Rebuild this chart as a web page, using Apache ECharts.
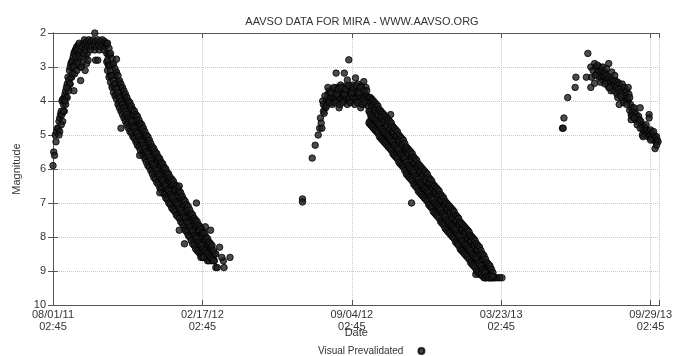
<!DOCTYPE html>
<html>
<head>
<meta charset="utf-8">
<script src="https://cdn.jsdelivr.net/npm/echarts@6/dist/echarts.min.js"></script>
<style>
  html, body { margin: 0; padding: 0; background: #fff; }
  #chart { width: 675px; height: 356px; }
</style>
</head>
<body>
<div id="chart"></div>
<script>
// x = days since 08/01/11 02:45, y = visual magnitude
const tickLabels = ["08/01/11\n02:45", "02/17/12\n02:45", "09/04/12\n02:45", "03/23/13\n02:45", "09/29/13\n02:45"];

const season1 = [
  [0,5.9],[1,5.5],[2,5.6],[3,5.0],[4,5.2],[5,4.9],[6,4.8],[7,4.8],[8,4.6],[9,4.5],[10,4.4],[11,4.3],[12,4.0],[12,4.4],
  [13,3.95],[14,4.1],[15,3.9],[16,3.8],[17,3.7],[18,3.9],[19,3.5],[20,3.6],[20,3.3],[21,3.4],[22,3.1],[23,3.0],[23,3.5],
  [24,2.9],[25,2.85],[25,3.3],[26,2.8],[27,3.0],[27,2.7],[28,2.6],[28,3.7],[29,2.55],[30,2.5],[30,2.9],[31,2.45],[32,2.4],
  [33,2.8],[34,2.35],[35,2.3],[36,3.0],[37,3.4],[38,2.6],[39,2.9],[40,2.5],[41,2.3],[42,2.4],[43,3.1],[44,2.7],[45,2.9],
  [46,2.6],[47,2.8],
  [15,4.3],[17,4.1],[19,3.9],[21,3.7],[22,3.5],[24,3.3],[26,3.2],[28,3.0],[29,3.2],[31,2.7],[32,3.1],[33,2.5],[34,2.9],
  [35,2.6],[36,2.7],[37,2.5],[38,3.0],[39,2.4],[40,2.7],[41,2.6],[18,3.6],[16,4.0],[14,4.3],[13,4.6],[11,4.7],[9,4.9],[8,5.0],
  [42,2.2],[43,2.35],[44,2.5],[45,2.25],[46,2.4],[48,2.2],[49,2.35],[50,2.5],[51,2.25],[52,2.4],[54,2.2],[55,2.35],
  [56,2.5],[56,2.0],[57,2.25],[57,2.8],[58,2.4],[60,2.2],[60,2.8],[61,2.35],[62,2.5],[63,2.25],[64,2.4],[66,2.2],
  [67,2.35],[68,2.5],[69,2.25],[70,2.4],[71,2.3],
  [72,2.35],[72,2.6],[72,2.85],[74,2.65],[74,2.95],[76,2.65],[76,2.95],[76,3.25],[78,2.95],[78,3.25],
  [80,2.95],[80,3.25],[80,3.55],[82,3.25],[82,3.55],[84,3.2],[84,3.5],[84,3.8],[86,3.45],[86,3.75],
  [88,3.45],[88,3.75],[88,4.05],[90,3.7],[90,4.0],[92,3.65],[92,3.95],[92,4.25],[94,3.9],[94,4.2],
  [96,3.85],[96,4.15],[96,4.45],[98,4.1],[98,4.4],[100,4.05],[100,4.35],[100,4.65],[102,4.3],[102,4.6],
  [104,4.2],[104,4.5],[104,4.8],[106,4.45],[106,4.75],[108,4.4],[108,4.7],[108,5.0],[110,4.6],[110,4.9],
  [112,4.55],[112,4.85],[112,5.15],[114,4.75],[114,5.05],[116,4.7],[116,5.0],[116,5.3],[118,4.95],[118,5.25],
  [120,4.85],[120,5.15],[120,5.45],[122,5.1],[122,5.4],[124,5.05],[124,5.35],[124,5.65],[126,5.3],[126,5.6],
  [128,5.2],[128,5.5],[128,5.8],[130,5.45],[130,5.75],[132,5.4],[132,5.7],[132,6.0],[134,5.65],[134,5.95],
  [136,5.55],[136,5.85],[136,6.15],[138,5.8],[138,6.1],[140,5.7],[140,6.0],[140,6.3],[142,5.95],[142,6.25],
  [144,5.85],[144,6.15],[144,6.45],[146,6.1],[146,6.4],[148,6.0],[148,6.3],[148,6.6],[150,6.25],[150,6.55],
  [152,6.15],[152,6.45],[152,6.75],[154,6.4],[154,6.7],[156,6.3],[156,6.6],[156,6.9],[158,6.55],[158,6.85],
  [160,6.45],[160,6.75],[160,7.05],[162,6.65],[162,6.95],[164,6.6],[164,6.9],[164,7.2],[166,6.8],[166,7.1],
  [168,6.7],[168,7.0],[168,7.3],[170,6.95],[170,7.25],[172,6.85],[172,7.15],[172,7.45],[174,7.1],[174,7.4],
  [176,7.05],[176,7.35],[176,7.65],[178,7.25],[178,7.55],[180,7.2],[180,7.5],[180,7.8],[182,7.4],[182,7.7],
  [184,7.35],[184,7.65],[184,7.95],[186,7.6],[186,7.9],[188,7.5],[188,7.8],[188,8.1],[190,7.75],[190,8.05],
  [192,7.65],[192,7.95],[192,8.25],[194,7.85],[194,8.15],[196,7.8],[196,8.1],[196,8.4],[198,8.0],[198,8.3],
  [200,7.9],[200,8.2],[200,8.5],[202,8.15],[202,8.45],[204,8.05],[204,8.35],[204,8.6],[206,8.25],[206,8.55],
  [208,8.2],[208,8.45],[208,8.6],[210,8.35],[210,8.6],[212,8.3],[212,8.55],[212,8.7],[214,8.45],[214,8.6],
  [216,8.5],[216,8.7],
  [73,2.3],[73,2.8],[73,3.1],[75,2.45],[75,2.95],[75,3.3],[77,2.6],[77,3.1],[77,3.45],[79,2.75],[79,3.25],[79,3.6],
  [81,2.9],[81,3.4],[81,3.75],[83,3.05],[83,3.5],[83,3.85],[85,3.15],[85,3.65],[85,3.95],[87,3.25],[87,3.75],[87,4.1],
  [89,3.4],[89,3.9],[89,4.2],[91,3.5],[91,4.0],[91,4.3],[93,3.6],[93,4.1],[93,4.4],[95,3.7],[95,4.2],[95,4.5],
  [97,3.8],[97,4.3],[97,4.6],[99,3.9],[99,4.4],[99,4.7],[101,4.0],[101,4.5],[101,4.8],[103,4.05],[103,4.55],[103,4.9],
  [105,4.15],[105,4.6],[105,4.95],[107,4.25],[107,4.75],[107,5.05],[109,4.3],[109,4.8],[109,5.1],[111,4.4],[111,4.9],[111,5.2],
  [113,4.45],[113,4.95],[113,5.3],[115,4.55],[115,5.05],[115,5.35],[117,4.65],[117,5.15],[117,5.45],[119,4.7],[119,5.2],[119,5.55],
  [121,4.8],[121,5.3],[121,5.6],[123,4.9],[123,5.4],[123,5.7],[125,5.0],[125,5.5],[125,5.8],[127,5.05],[127,5.55],[127,5.9],
  [129,5.15],[129,5.65],[129,5.95],[131,5.25],[131,5.75],[131,6.05],[133,5.35],[133,5.85],[133,6.15],[135,5.4],[135,5.9],[135,6.25],
  [137,5.5],[137,6.0],[137,6.3],[139,5.55],[139,6.05],[139,6.4],[141,5.65],[141,6.15],[141,6.45],[143,5.7],[143,6.2],[143,6.55],
  [145,5.8],[145,6.3],[145,6.6],[147,5.85],[147,6.35],[147,6.7],[149,5.95],[149,6.45],[149,6.75],[151,6.0],[151,6.5],[151,6.85],
  [153,6.1],[153,6.6],[153,6.9],[155,6.15],[155,6.65],[155,7.0],[157,6.25],[157,6.75],[157,7.05],[159,6.3],[159,6.8],[159,7.15],
  [161,6.35],[161,6.85],[161,7.2],[163,6.45],[163,6.95],[163,7.25],[165,6.5],[165,7.0],[165,7.35],[167,6.55],[167,7.05],[167,7.4],
  [169,6.65],[169,7.15],[169,7.45],[171,6.7],[171,7.2],[171,7.55],[173,6.8],[173,7.3],[173,7.6],[175,6.9],[175,7.4],[175,7.7],
  [177,6.95],[177,7.45],[177,7.8],[179,7.05],[179,7.55],[179,7.85],[181,7.1],[181,7.6],[181,7.95],[183,7.2],[183,7.7],[183,8.0],
  [185,7.3],[185,7.8],[185,8.1],[187,7.35],[187,7.85],[187,8.2],[189,7.45],[189,7.95],[189,8.25],[191,7.5],[191,8.0],[191,8.35],
  [193,7.55],[193,8.05],[193,8.4],[195,7.65],[195,8.15],[195,8.45],[197,7.7],[197,8.2],[197,8.5],[199,7.75],[199,8.25],[199,8.55],
  [201,7.85],[201,8.35],[201,8.6],[203,7.9],[203,8.4],[203,8.6],[205,8.0],[205,8.45],[205,8.6],[207,8.05],[207,8.5],[207,8.7],
  [209,8.15],[209,8.55],[209,8.7],[211,8.2],[211,8.6],[213,8.25],[213,8.65],[215,8.4],[215,8.7],
  [85,2.77],[91,4.8],[116,5.6],[143,6.7],[169,6.5],[169,7.8],[176,8.2],[192,7.0],[218,8.9],[220,8.9],[229,8.9],
  [228,8.7],[237,8.6],[223,8.3],[198,8.6],[201,8.6],[204,7.7],[211,7.8],[218,8.5],[226,8.6]
];

const season2 = [
  [334,6.88],[334,6.97],[347,5.68],[351,5.3],[355,5.0],[357,4.8],[358,4.5],[359,4.65],[360,4.8],[361,4.0],[362,4.3],
  [363,4.36],[364,4.15],[365,4.2],[366,3.95],[367,4.1],
  [368,3.8],[369,4.0],[370,3.7],[371,3.9],[372,4.05],[373,3.75],[374,3.95],[375,3.65],[376,3.85],[377,4.0],[378,3.7],
  [379,3.18],[379,3.9],[380,3.6],[381,3.8],[382,4.0],[383,4.2],[383,3.7],[384,3.9],[385,3.53],[386,3.75],[387,3.95],
  [388,3.6],[389,3.85],[390,3.18],[390,4.0],[391,3.7],[392,3.9],[393,3.55],[394,3.38],[394,3.8],[395,4.0],[396,2.79],
  [396,3.7],[397,3.9],[398,3.6],[399,3.8],[400,4.0],[401,3.53],[401,3.7],[402,3.9],[403,3.6],[404,3.8],[405,3.32],
  [405,4.0],[406,3.7],[407,3.9],[408,3.5],[409,3.8],[410,4.0],[411,3.65],[412,4.2],[412,3.85],[413,3.55],[414,3.75],
  [415,3.95],[416,3.43],[416,4.1],[417,3.7],[418,3.9],[419,3.6],[420,3.85],[421,4.05],
  [362,4.1],[364,3.85],[366,4.15],[368,3.6],[370,4.05],[372,3.75],[374,4.1],[376,3.6],[378,4.05],[380,3.8],[382,3.65],
  [384,4.1],[386,3.6],[388,4.05],[390,3.8],[392,3.65],[394,4.1],[396,3.55],[398,4.05],[400,3.75],[402,3.6],[404,4.1],
  [406,3.55],[408,4.05],[410,3.75],[412,3.6],[414,4.1],[416,3.7],[418,4.05],[420,3.7],[422,4.15],[422,3.9],
  [424,4.0],[424,4.3],[424,4.6],[426,4.2],[426,4.5],[428,4.1],[428,4.4],[428,4.7],[430,4.3],[430,4.6],
  [432,4.2],[432,4.5],[432,4.8],[434,4.4],[434,4.7],[436,4.3],[436,4.6],[436,4.9],[438,4.55],[438,4.85],
  [440,4.45],[440,4.75],[440,5.05],[442,4.65],[442,4.95],[444,4.55],[444,4.85],[444,5.15],[446,4.75],[446,5.05],
  [448,4.65],[448,4.95],[448,5.25],[450,4.85],[450,5.15],[452,4.75],[452,5.05],[452,5.35],[454,4.95],[454,5.25],
  [456,4.9],[456,5.2],[456,5.5],[458,5.1],[458,5.4],[460,5.0],[460,5.3],[460,5.6],[462,5.2],[462,5.5],
  [464,5.15],[464,5.45],[464,5.75],[466,5.35],[466,5.65],[468,5.25],[468,5.55],[468,5.85],[470,5.45],[470,5.75],
  [472,5.4],[472,5.7],[472,6.0],[474,5.65],[474,5.95],[476,5.55],[476,5.85],[476,6.15],[478,5.75],[478,6.05],
  [480,5.65],[480,5.95],[480,6.25],[482,5.85],[482,6.15],[484,5.8],[484,6.1],[484,6.4],[486,6.0],[486,6.3],
  [488,5.9],[488,6.2],[488,6.5],[490,6.15],[490,6.45],[492,6.05],[492,6.35],[492,6.65],[494,6.25],[494,6.55],
  [496,6.15],[496,6.45],[496,6.75],[498,6.35],[498,6.65],[500,6.25],[500,6.55],[500,6.85],[502,6.45],[502,6.75],
  [504,6.4],[504,6.7],[504,7.0],[506,6.6],[506,6.9],[508,6.5],[508,6.8],[508,7.1],[510,6.75],[510,7.05],
  [512,6.65],[512,6.95],[512,7.25],[514,6.85],[514,7.15],[516,6.75],[516,7.05],[516,7.35],[518,6.95],[518,7.25],
  [520,6.9],[520,7.2],[520,7.5],[522,7.1],[522,7.4],[524,7.0],[524,7.3],[524,7.6],[526,7.25],[526,7.55],
  [528,7.15],[528,7.45],[528,7.75],[530,7.35],[530,7.65],[532,7.25],[532,7.55],[532,7.85],[534,7.45],[534,7.75],
  [536,7.35],[536,7.65],[536,7.95],[538,7.55],[538,7.85],[540,7.5],[540,7.8],[540,8.1],[542,7.7],[542,8.0],
  [544,7.6],[544,7.9],[544,8.2],[546,7.85],[546,8.15],[548,7.75],[548,8.05],[548,8.35],[550,7.95],[550,8.25],
  [552,7.85],[552,8.15],[552,8.45],[554,8.05],[554,8.35],[556,7.95],[556,8.25],[556,8.55],[558,8.15],[558,8.45],
  [560,8.1],[560,8.4],[560,8.7],[562,8.3],[562,8.6],[564,8.2],[564,8.5],[564,8.8],[566,8.4],[566,8.7],
  [568,8.35],[568,8.65],[568,8.95],[570,8.55],[570,8.85],[572,8.5],[572,8.75],[572,9.0],[574,8.7],[574,8.95],
  [576,8.65],[576,8.9],[576,9.1],[578,8.8],[578,9.05],[580,8.8],[580,9.0],[580,9.2],[582,8.9],[582,9.1],
  [584,8.9],[584,9.1],[584,9.2],[586,9.0],[586,9.2],[588,9.15],[588,9.2],[590,9.2],[592,9.2],[595,9.2],[598,9.2],
  [601,9.2],[566,9.1],[558,7.95],[452,4.4],[480,7.0],
  [423,3.9],[423,4.3],[423,4.65],[425,3.9],[425,4.4],[425,4.7],[427,3.95],[427,4.45],[427,4.75],[429,4.0],[429,4.5],[429,4.8],
  [431,4.05],[431,4.55],[431,4.85],[433,4.1],[433,4.6],[433,4.9],[435,4.15],[435,4.65],[435,4.95],[437,4.25],[437,4.7],[437,5.05],
  [439,4.3],[439,4.8],[439,5.1],[441,4.35],[441,4.85],[441,5.15],[443,4.4],[443,4.9],[443,5.2],[445,4.45],[445,4.95],[445,5.25],
  [447,4.5],[447,5.0],[447,5.3],[449,4.55],[449,5.05],[449,5.35],[451,4.6],[451,5.1],[451,5.4],[453,4.65],[453,5.15],[453,5.45],
  [455,4.75],[455,5.2],[455,5.55],[457,4.8],[457,5.3],[457,5.6],[459,4.85],[459,5.35],[459,5.65],[461,4.9],[461,5.4],[461,5.7],
  [463,5.0],[463,5.45],[463,5.8],[465,5.05],[465,5.55],[465,5.85],[467,5.1],[467,5.6],[467,5.9],[469,5.15],[469,5.65],[469,5.95],
  [471,5.25],[471,5.7],[471,6.05],[473,5.35],[473,5.8],[473,6.15],[475,5.4],[475,5.9],[475,6.2],[477,5.45],[477,5.95],[477,6.25],
  [479,5.5],[479,6.0],[479,6.3],[481,5.55],[481,6.05],[481,6.35],[483,5.65],[483,6.1],[483,6.45],[485,5.7],[485,6.2],[485,6.5],
  [487,5.75],[487,6.25],[487,6.55],[489,5.85],[489,6.3],[489,6.65],[491,5.9],[491,6.4],[491,6.7],[493,5.95],[493,6.45],[493,6.75],
  [495,6.0],[495,6.5],[495,6.8],[497,6.05],[497,6.55],[497,6.85],[499,6.1],[499,6.6],[499,6.9],[501,6.15],[501,6.65],[501,6.95],
  [503,6.25],[503,6.7],[503,7.05],[505,6.3],[505,6.8],[505,7.1],[507,6.35],[507,6.85],[507,7.15],[509,6.45],[509,6.9],[509,7.25],
  [511,6.5],[511,7.0],[511,7.3],[513,6.55],[513,7.05],[513,7.35],[515,6.6],[515,7.1],[515,7.4],[517,6.65],[517,7.15],[517,7.45],
  [519,6.75],[519,7.2],[519,7.55],[521,6.8],[521,7.3],[521,7.6],[523,6.85],[523,7.35],[523,7.65],[525,6.95],[525,7.4],[525,7.75],
  [527,7.0],[527,7.5],[527,7.8],[529,7.05],[529,7.55],[529,7.85],[531,7.1],[531,7.6],[531,7.9],[533,7.15],[533,7.65],[533,7.95],
  [535,7.2],[535,7.7],[535,8.0],[537,7.25],[537,7.75],[537,8.05],[539,7.35],[539,7.8],[539,8.15],[541,7.4],[541,7.9],[541,8.2],
  [543,7.45],[543,7.95],[543,8.25],[545,7.55],[545,8.0],[545,8.35],[547,7.6],[547,8.1],[547,8.4],[549,7.65],[549,8.15],[549,8.45],
  [551,7.7],[551,8.2],[551,8.5],[553,7.75],[553,8.25],[553,8.55],[555,7.8],[555,8.3],[555,8.6],[557,7.85],[557,8.35],[557,8.65],
  [559,7.95],[559,8.4],[559,8.75],[561,8.0],[561,8.5],[561,8.8],[563,8.05],[563,8.55],[563,8.85],[565,8.1],[565,8.6],[565,8.9],
  [567,8.2],[567,8.65],[567,9.0],[569,8.25],[569,8.75],[569,9.05],[571,8.3],[571,8.8],[571,9.1],[573,8.4],[573,8.85],[573,9.1],
  [575,8.5],[575,8.95],[575,9.15],[577,8.55],[577,9.0],[577,9.2],[579,8.65],[579,9.05],[579,9.2],[581,8.75],[581,9.15],
  [583,8.8],[583,9.2],[585,8.85],[585,9.15],[587,8.95],[587,9.2],[589,9.05],[589,9.15]
];

const season3 = [
  [682,4.8],[683,4.8],[684,4.5],[689,3.9],[699,3.6],[700,3.3],[714,3.3],[716,2.6],[720,3.6],[720,3.0],[721,3.3],
  [723,3.1],[725,2.9],[725,3.48],[727,3.0],[728,3.2],[730,3.1],[731,3.3],[732,3.0],[733,3.2],[734,3.3],[735,3.1],
  [736,3.4],[737,3.2],[738,3.3],[739,3.15],[740,3.4],[741,3.25],[742,3.5],[743,3.35],[744,2.9],[744,3.6],[745,3.3],
  [746,3.45],[747,3.7],[748,3.35],[749,3.55],[750,3.4],[751,3.7],[752,3.5],[753,3.4],[754,3.6],[755,3.8],[756,3.45],
  [757,3.65],[758,4.1],[758,3.5],[759,3.75],[760,3.6],[761,3.9],[762,3.5],[763,3.7],[764,3.85],[765,3.6],[766,3.75],
  [767,4.0],[768,3.7],[769,3.9],[770,3.6],[770,4.0],[771,3.8],[772,4.27],[772,3.9],[773,4.1],[774,4.4],[774,4.55],
  [775,4.2],[776,4.3],[777,4.45],[778,4.2],[779,4.35],[780,4.56],[781,4.4],[782,4.5],[783,4.6],[784,4.45],[785,4.55],
  [786,4.2],[787,4.6],[788,4.7],[789,4.8],[789,5.0],[790,4.85],[791,4.75],[792,4.9],[793,4.8],[794,5.0],[795,4.85],
  [796,4.95],[797,5.05],[798,4.4],[798,4.5],[798,4.9],[799,5.0],[800,4.85],[801,5.1],[802,4.95],[803,5.05],
  [804,5.15],[805,5.0],[806,5.4],[806,5.1],[807,5.2],[808,5.05],[809,5.15],[810,5.2],
  [726,3.25],[729,2.95],[733,3.45],[736,3.0],[739,3.5],[741,3.05],[745,3.6],[748,3.15],[752,3.25],[756,3.9],[760,3.85],
  [764,4.05],[768,4.1],[775,4.45],[778,4.5],[782,4.7],[786,4.8],[790,5.05],[794,4.7],[800,5.15],[804,4.9],[808,5.3]
];

const chart = echarts.init(document.getElementById("chart"));
const axisColor = "#555";
const textColor = "#333";
const font = "Liberation Sans";

chart.setOption({
  animation: false,
  textStyle: { fontFamily: font },
  title: {
    text: "AAVSO DATA FOR MIRA - WWW.AAVSO.ORG",
    left: 357,
    textAlign: "center",
    top: 11,
    textStyle: { fontSize: 11, fontWeight: "normal", color: textColor, fontFamily: font },
  },
  legend: {
    left: 313,
    top: 341,
    align: "right",
    itemWidth: 6,
    itemHeight: 6,
    itemGap: 0,
    textStyle: { fontSize: 10, color: textColor, fontFamily: font, padding: [0, 10, 0, 0] },
    data: ["Visual Prevalidated"],
  },
  grid: { left: 53, right: 8, top: 33, bottom: 51, containLabel: false },
  xAxis: [
    {
      type: "value",
      min: 0,
      max: 812,
      interval: 200,
      position: "bottom",
      name: "Date",
      nameLocation: "middle",
      nameGap: 22,
      nameMoveOverlap: false,
      nameTextStyle: { fontSize: 11, color: textColor, fontFamily: font },
      axisLine: { show: true, lineStyle: { color: axisColor, width: 1 } },
      axisTick: { show: true, inside: true, length: 5, lineStyle: { color: axisColor } },
      axisLabel: {
        fontSize: 11,
        color: textColor,
        lineHeight: 12,
        margin: 4,
        formatter: (v) => (v % 200 === 0 ? tickLabels[v / 200] : ""),
      },
      splitLine: { show: true, lineStyle: { type: "dotted", color: "#c8c8c8" } },
    },
    {
      type: "value",
      min: 0,
      max: 812,
      interval: 200,
      position: "top",
      axisLine: { show: true, lineStyle: { color: axisColor, width: 1 } },
      axisTick: { show: true, inside: true, length: 5, lineStyle: { color: axisColor } },
      axisLabel: { show: false },
      splitLine: { show: false },
    },
  ],
  yAxis: [
    {
      type: "value",
      inverse: true,
      min: 2,
      max: 10,
      interval: 1,
      position: "left",
      name: "Magnitude",
      nameLocation: "middle",
      nameGap: 31,
      nameMoveOverlap: false,
      nameTextStyle: { fontSize: 11, color: textColor, fontFamily: font },
      axisLine: { show: true, lineStyle: { color: axisColor, width: 1 } },
      axisTick: { show: true, inside: true, length: 5, lineStyle: { color: axisColor } },
      axisLabel: { fontSize: 11, color: textColor, margin: 7 },
      splitLine: { show: true, lineStyle: { type: "dotted", color: "#c8c8c8" } },
    },
    {
      type: "value",
      inverse: true,
      min: 2,
      max: 10,
      interval: 1,
      position: "right",
      axisLine: { show: true, lineStyle: { color: axisColor, width: 1 } },
      axisTick: { show: true, inside: true, length: 5, lineStyle: { color: axisColor } },
      axisLabel: { show: false },
      splitLine: { show: false },
    },
  ],
  series: [
    {
      name: "Visual Prevalidated",
      type: "scatter",
      symbol: "circle",
      symbolSize: 6.5,
      itemStyle: { color: "#1e1e1e", borderColor: "#000", borderWidth: 1 },
      data: season1.concat(season2, season3),
    },
  ],
});
</script>
</body>
</html>
